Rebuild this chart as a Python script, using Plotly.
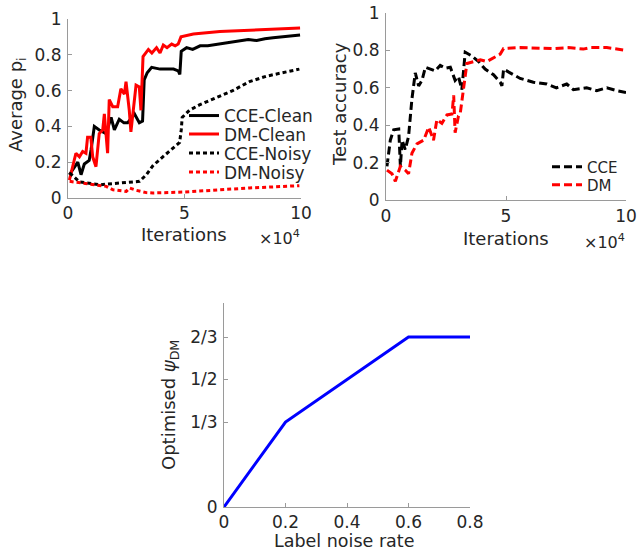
import plotly.graph_objects as go

# ---------------- Data (x in units of 10^4 iterations) ----------------
cce_clean_x = [0.06, 0.42, 0.56, 0.70, 0.91, 0.99, 1.13, 1.34, 1.63, 1.85, 1.99, 2.20, 2.40, 2.56,
               2.85, 3.06, 3.20, 3.27, 3.40, 3.59, 3.95, 4.24, 4.53, 4.73, 4.80, 4.86, 5.09, 5.35,
               5.67, 6.00, 6.50, 7.17, 7.74, 8.10, 8.45, 8.80, 9.17, 9.50, 9.96]
cce_clean_y = [0.13, 0.20, 0.13, 0.19, 0.21, 0.27, 0.40, 0.38, 0.36, 0.45, 0.38, 0.44, 0.42, 0.42,
               0.47, 0.42, 0.43, 0.66, 0.70, 0.73, 0.72, 0.72, 0.72, 0.71, 0.69, 0.82, 0.84, 0.83,
               0.85, 0.85, 0.86, 0.87, 0.885, 0.88, 0.89, 0.895, 0.90, 0.905, 0.91]

dm_clean_x = [0.06, 0.34, 0.49, 0.63, 0.77, 0.84, 0.98, 1.06, 1.20, 1.34, 1.49, 1.56, 1.70, 1.77,
              1.92, 2.13, 2.27, 2.42, 2.49, 2.63, 2.70, 2.85, 2.92, 3.06, 3.13, 3.22, 3.45, 3.60,
              3.80, 3.95, 4.09, 4.25, 4.45, 4.60, 4.73, 4.85, 5.38, 6.52, 7.50, 8.50, 9.96]
dm_clean_y = [0.10, 0.25, 0.23, 0.26, 0.25, 0.34, 0.34, 0.23, 0.175, 0.36, 0.38, 0.47, 0.25, 0.55,
              0.51, 0.51, 0.61, 0.58, 0.65, 0.49, 0.37, 0.55, 0.63, 0.62, 0.49, 0.79, 0.83, 0.81,
              0.84, 0.81, 0.855, 0.84, 0.86, 0.85, 0.86, 0.90, 0.916, 0.93, 0.935, 0.94, 0.95]

cce_noisy_x = [0.07, 0.50, 1.36, 2.00, 2.79, 3.07, 3.36, 3.64, 4.07, 4.50, 4.79, 4.86, 4.90, 5.21,
               5.64, 6.36, 7.07, 7.79, 8.50, 9.21, 9.93]
cce_noisy_y = [0.14, 0.09, 0.074, 0.08, 0.09, 0.093, 0.13, 0.18, 0.23, 0.28, 0.31, 0.38, 0.45, 0.49,
               0.52, 0.56, 0.60, 0.65, 0.68, 0.70, 0.72]

dm_noisy_x = [0.07, 0.64, 1.20, 1.64, 1.93, 2.50, 2.64, 2.93, 3.36, 3.64, 4.93, 6.36, 7.79, 9.93]
dm_noisy_y = [0.093, 0.084, 0.074, 0.065, 0.046, 0.037, 0.056, 0.043, 0.030, 0.028, 0.033, 0.046, 0.056, 0.069]

acc_cce_x = [0.04, 0.18, 0.32, 0.53, 0.60, 0.67, 0.80, 0.94, 1.08, 1.22, 1.36, 1.50, 1.64, 1.84,
             2.05, 2.26, 2.47, 2.68, 2.88, 3.02, 3.16, 3.30, 3.58, 3.86, 4.13, 4.48, 4.76, 4.83,
             4.90, 5.17, 5.59, 6.14, 6.70, 7.10, 7.53, 7.81, 8.36, 8.78, 9.20, 9.61, 10.0]
acc_cce_y = [0.18, 0.32, 0.375, 0.38, 0.18, 0.32, 0.27, 0.34, 0.54, 0.68, 0.61, 0.64, 0.71, 0.70,
             0.69, 0.72, 0.705, 0.71, 0.64, 0.66, 0.59, 0.79, 0.77, 0.74, 0.70, 0.67, 0.63, 0.61,
             0.70, 0.68, 0.65, 0.63, 0.62, 0.60, 0.62, 0.59, 0.60, 0.585, 0.60, 0.585, 0.575]

acc_dm_x = [0.04, 0.25, 0.39, 0.60, 0.80, 0.94, 1.08, 1.29, 1.57, 1.78, 1.98, 2.12, 2.33, 2.54,
            2.75, 2.82, 2.88, 3.02, 3.09, 3.23, 3.37, 3.65, 3.93, 4.20, 4.48, 4.76, 4.90, 5.59,
            6.98, 7.60, 8.22, 8.50, 9.20, 10.0]
acc_dm_y = [0.16, 0.14, 0.10, 0.18, 0.16, 0.14, 0.25, 0.30, 0.32, 0.39, 0.32, 0.43, 0.41, 0.455,
            0.46, 0.56, 0.36, 0.45, 0.46, 0.61, 0.73, 0.74, 0.75, 0.74, 0.76, 0.78, 0.81, 0.815,
            0.81, 0.815, 0.807, 0.815, 0.815, 0.80]

noise_rate = [0, 0.2, 0.6, 0.8]
psi_dm = [0, 1/3, 2/3, 2/3]

iter_ticks = [0, 5, 10]
iter_ticktext = ["0", "5", "10"]
p_ticks = [0, 0.2, 0.4, 0.6, 0.8, 1]
p_ticktext = ["0", "0.2", "0.4", "0.6", "0.8", "1"]
noise_ticks = [0, 0.2, 0.4, 0.6, 0.8]
noise_ticktext = ["0", "0.2", "0.4", "0.6", "0.8"]
psi_ticks = [0, 1/3, 1/2, 2/3]
psi_ticktext = ["0", "1/3", "1/2", "2/3"]

# ---------------- Figure ----------------
W, H = 638, 552
FONT = "DejaVu Sans"
TXT = "#262626"
AX = "#9a9a9a"

def px_dom_x(a, b):
    return [a / W, b / W]

def px_dom_y(top, bottom):
    return [1 - bottom / H, 1 - top / H]

fig = go.Figure()

traces1 = [
    (cce_clean_x, cce_clean_y, "CCE-Clean", dict(color="black", width=3)),
    (dm_clean_x, dm_clean_y, "DM-Clean", dict(color="#ff0000", width=3)),
    (cce_noisy_x, cce_noisy_y, "CCE-Noisy", dict(color="black", width=3, dash="4px,3px")),
    (dm_noisy_x, dm_noisy_y, "DM-Noisy", dict(color="#ff0000", width=3, dash="4px,3px")),
]
for i, (xs, ys, nm, ln) in enumerate(traces1):
    fig.add_trace(go.Scatter(x=xs, y=ys, mode="lines", name=nm, line=ln,
                             xaxis="x", yaxis="y", legend="legend" if i == 0 else f"legend{i + 1}"))

fig.add_trace(go.Scatter(x=acc_cce_x, y=acc_cce_y, mode="lines", name="CCE",
                         line=dict(color="black", width=3, dash="8px,4px"), xaxis="x2", yaxis="y2", legend="legend5"))
fig.add_trace(go.Scatter(x=acc_dm_x, y=acc_dm_y, mode="lines", name="DM",
                         line=dict(color="#ff0000", width=3, dash="8px,4px"), xaxis="x2", yaxis="y2", legend="legend6"))

fig.add_trace(go.Scatter(x=noise_rate, y=psi_dm, mode="lines", showlegend=False,
                         line=dict(color="#0000ff", width=3), xaxis="x3", yaxis="y3"))

def axis(domain, anchor, rng, tv, tt, lstand=0):
    return dict(domain=domain, anchor=anchor, range=rng, tickmode="array", tickvals=tv, ticktext=tt,
                showline=True, linecolor=AX, linewidth=1, showgrid=False, zeroline=False,
                ticks="inside", ticklen=4, tickcolor=AX, tickwidth=1, automargin=False,
                ticklabelstandoff=lstand,
                tickfont=dict(family=FONT, size=17, color=TXT),
                fixedrange=True)

def leg(xpx, ypx, size):
    return dict(x=xpx / W, y=1 - ypx / H, xanchor="left", yanchor="middle", bgcolor="rgba(0,0,0,0)",
                font=dict(family=FONT, size=size, color=TXT), itemwidth=30)

def label(text, xpx, ypx, size=18, angle=0, xanchor="center"):
    return dict(text=text, x=xpx / W, y=1 - ypx / H, xref="paper", yref="paper",
                xanchor=xanchor, yanchor="middle", showarrow=False, textangle=angle,
                font=dict(family=FONT, size=size, color=TXT))

fig.update_layout(
    width=W, height=H, margin=dict(l=0, r=0, t=0, b=0),
    paper_bgcolor="white", plot_bgcolor="rgba(0,0,0,0)",
    font=dict(family=FONT, color=TXT),
    xaxis=axis(px_dom_x(68, 301), "y", [0, 10], iter_ticks, iter_ticktext, 0),
    yaxis=axis(px_dom_y(19, 198), "x", [0, 1], p_ticks, p_ticktext, 2),
    xaxis2=axis(px_dom_x(386, 626), "y2", [0, 10], iter_ticks, iter_ticktext, 1),
    yaxis2=axis(px_dom_y(13, 200), "x2", [0, 1], p_ticks, p_ticktext, 2),
    xaxis3=axis(px_dom_x(224, 470), "y3", [0, 0.8], noise_ticks, noise_ticktext, 0),
    yaxis3=axis(px_dom_y(303, 507), "x3", [0, 0.8], psi_ticks, psi_ticktext, 2),
    legend=leg(184, 116, 17),
    legend2=leg(184, 134.5, 17),
    legend3=leg(184, 153.5, 17),
    legend4=leg(184, 172.5, 17),
    legend5=leg(547, 167, 15),
    legend6=leg(547, 185, 15),
    annotations=[
        label("Average p<sub>i</sub>", 17, 105, angle=-90),
        label("Test accuracy", 340, 104, angle=-90),
        label("Optimised <i>ψ</i><sub>DM</sub>", 170, 405, angle=-90),
        label("Iterations", 184, 234),
        label("Iterations", 506, 238),
        label("Label noise rate", 344, 541, size=17.5),
        label("×10<sup>4</sup>", 302, 237, size=16, xanchor="right"),
        label("×10<sup>4</sup>", 627, 242, size=16, xanchor="right"),
    ],
)

fig.write_html("out.html")
